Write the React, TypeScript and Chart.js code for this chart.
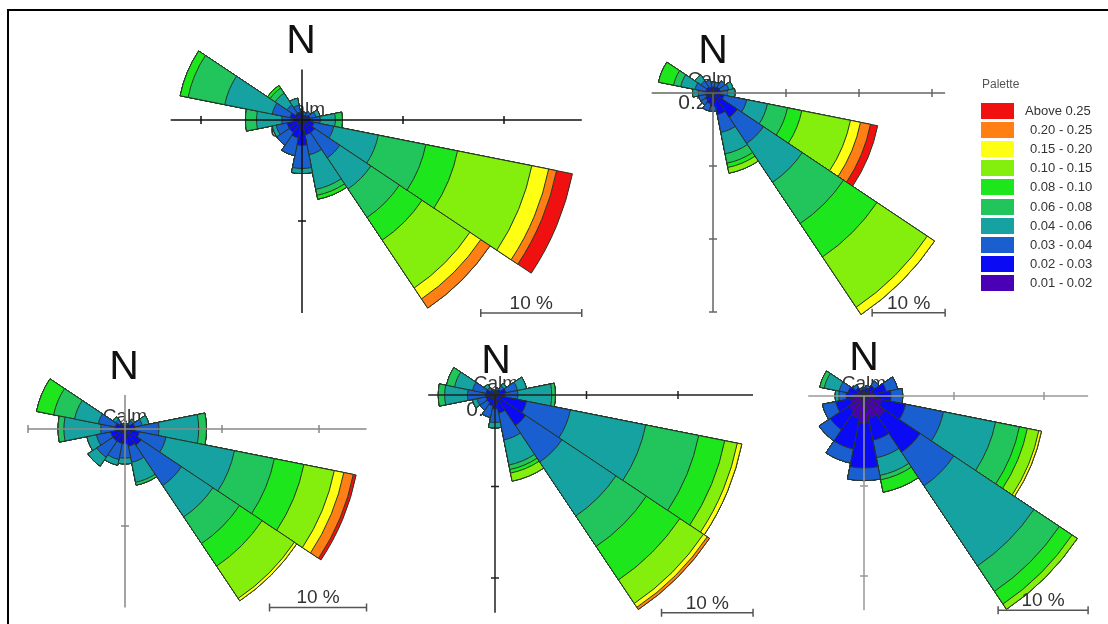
import React, { useEffect, useRef } from "react";
import { Chart, registerables } from "chart.js";

Chart.register(...registerables);

// ---------- categories ----------
const DIRECTIONS = ["N", "NNE", "NE", "ENE", "E", "ESE", "SE", "SSE", "S", "SSW", "SW", "WSW", "W", "WNW", "NW", "NNW"];
const CLASS_LABELS = ["0.01 - 0.02", "0.02 - 0.03", "0.03 - 0.04", "0.04 - 0.06", "0.06 - 0.08", "0.08 - 0.10", "0.10 - 0.15", "0.15 - 0.20", "0.20 - 0.25", "Above 0.25"];
const CLASS_COLORS = ["#4a00b4", "#0a0af5", "#1a5fd0", "#17a2a2", "#22c45c", "#1de61d", "#84ee0c", "#ffff14", "#ff7f14", "#f01010"];
const CALM_LABELS = ["0.27%", "0.23%", "0.25%", "0.06%", "0.28%"];
const SCALE_BAR_PCT = 10;

// ---------- frequencies (%) per class, by direction N..NNW ----------
// Rose 1
const R1_C01 = [0.2, 0.2, 0.2, 0.2, 0.2, 0.3, 0.3, 0.3, 0.4, 0.3, 0.3, 0.3, 0.2, 0.3, 0.2, 0.2];
const R1_C02 = [0.3, 0.3, 0.4, 0.6, 0.6, 0.9, 1.2, 1.2, 2.1, 1.5, 1.2, 1.2, 0.6, 0.9, 0.6, 0.6];
const R1_C03 = [0.3, 0.3, 0.4, 0.6, 1.0, 2.0, 3.0, 2.0, 2.3, 1.8, 1.5, 1.1, 1.2, 1.8, 1.0, 0.7];
const R1_C04 = [0, 0, 0, 0.4, 1.5, 4.5, 3.7, 3.5, 0.5, 0, 0, 0.4, 2.5, 4.8, 1.4, 0.7];
const R1_C06 = [0, 0, 0, 0, 0.7, 4.8, 3.4, 0.6, 0, 0, 0, 0, 1.1, 3.7, 0.6, 0];
const R1_C08 = [0, 0, 0, 0, 0, 3.2, 2.7, 0.4, 0, 0, 0, 0, 0, 0.8, 0.3, 0];
const R1_C10 = [0, 0, 0, 0, 0, 7.5, 5.7, 0, 0, 0, 0, 0, 0, 0, 0, 0];
const R1_C15 = [0, 0, 0, 0, 0, 1.7, 1.3, 0, 0, 0, 0, 0, 0, 0, 0, 0];
const R1_C20 = [0, 0, 0, 0, 0, 0.8, 1.1, 0, 0, 0, 0, 0, 0, 0, 0, 0];
const R1_C25 = [0, 0, 0, 0, 0, 1.6, 0, 0, 0, 0, 0, 0, 0, 0, 0, 0];
// Rose 2
const R2_C01 = [0.2, 0.2, 0.2, 0.2, 0.2, 0.3, 0.3, 0.3, 0.3, 0.2, 0.2, 0.2, 0.2, 0.2, 0.2, 0.2];
const R2_C02 = [0.6, 0.6, 0.8, 0.8, 0.8, 1.2, 3.7, 2.7, 1.5, 1.3, 1.0, 0.8, 0.8, 0.8, 0.8, 0.6];
const R2_C03 = [0.7, 0.7, 1.0, 1.2, 1.0, 3.2, 4.3, 2.5, 0.7, 1.0, 0.8, 1.0, 1.0, 1.5, 1.0, 1.0];
const R2_C04 = [0, 0, 0, 0.6, 1.0, 2.9, 6.4, 3.0, 0, 0, 0, 0, 0.8, 2.0, 1.0, 0];
const R2_C06 = [0, 0, 0, 0, 0, 2.8, 6.8, 1.3, 0, 0, 0, 0, 0, 1.0, 0, 0];
const R2_C08 = [0, 0, 0, 0, 0, 2.0, 5.5, 0.6, 0, 0, 0, 0, 0, 2.1, 0, 0];
const R2_C10 = [0, 0, 0, 0, 0, 6.8, 8.3, 0.8, 0, 0, 0, 0, 0, 0, 0, 0];
const R2_C15 = [0, 0, 0, 0, 0, 1.4, 1.2, 0, 0, 0, 0, 0, 0, 0, 0, 0];
const R2_C20 = [0, 0, 0, 0, 0, 1.4, 0, 0, 0, 0, 0, 0, 0, 0, 0, 0];
const R2_C25 = [0, 0, 0, 0, 0, 1.0, 0, 0, 0, 0, 0, 0, 0, 0, 0, 0];
// Rose 3
const R3_C01 = [0.2, 0.2, 0.2, 0.2, 0.2, 0.3, 0.3, 0.3, 0.3, 0.3, 0.3, 0.3, 0.2, 0.2, 0.2, 0.2];
const R3_C02 = [0.2, 0.2, 0.4, 0.8, 0.8, 1.2, 1.7, 1.5, 1.2, 1.2, 1.2, 1.2, 0.8, 0.8, 0.5, 0.2];
const R3_C03 = [0.1, 0.2, 0.4, 0.8, 2.5, 2.8, 5.0, 1.7, 1.5, 1.7, 2.0, 1.5, 1.5, 1.8, 0.5, 0.2];
const R3_C04 = [0, 0, 0.2, 0.7, 4.1, 7.2, 3.9, 2.1, 0.6, 0.6, 1.1, 1.0, 3.8, 2.5, 0.3, 0];
const R3_C06 = [0, 0, 0, 0, 0.8, 4.2, 3.3, 0.3, 0, 0, 0, 0, 0.6, 2.2, 0, 0];
const R3_C08 = [0, 0, 0, 0, 0, 3.1, 2.8, 0, 0, 0, 0, 0, 0, 1.8, 0, 0];
const R3_C10 = [0, 0, 0, 0, 0, 3.2, 4.0, 0, 0, 0, 0, 0, 0, 0, 0, 0];
const R3_C15 = [0, 0, 0, 0, 0, 1.0, 0.3, 0, 0, 0, 0, 0, 0, 0, 0, 0];
const R3_C20 = [0, 0, 0, 0, 0, 1.0, 0, 0, 0, 0, 0, 0, 0, 0, 0, 0];
const R3_C25 = [0, 0, 0, 0, 0, 0.3, 0, 0, 0, 0, 0, 0, 0, 0, 0, 0];
// Rose 4
const R4_C01 = [0.2, 0.2, 0.2, 0.2, 0.2, 0.3, 0.3, 0.3, 0.3, 0.2, 0.2, 0.2, 0.2, 0.2, 0.2, 0.2];
const R4_C02 = [0.2, 0.3, 0.5, 1.0, 0.8, 3.2, 3.7, 1.7, 1.2, 1.0, 0.8, 0.8, 0.8, 0.8, 0.4, 0.2];
const R4_C03 = [0.1, 0.3, 0.5, 1.3, 1.5, 4.9, 4.8, 3.0, 1.5, 1.3, 1.0, 1.0, 2.0, 1.5, 0.4, 0.2];
const R4_C04 = [0, 0, 0.3, 1.0, 3.7, 8.4, 7.1, 2.8, 0.6, 0, 0, 0.5, 2.5, 2.0, 0.4, 0];
const R4_C06 = [0, 0, 0, 0, 0.4, 5.9, 4.0, 0.5, 0, 0, 0, 0, 0.7, 0.9, 0, 0];
const R4_C08 = [0, 0, 0, 0, 0, 2.9, 4.4, 0.4, 0, 0, 0, 0, 0, 0, 0, 0];
const R4_C10 = [0, 0, 0, 0, 0, 1.4, 3.1, 0.9, 0, 0, 0, 0, 0, 0, 0, 0];
const R4_C15 = [0, 0, 0, 0, 0, 0.5, 0.5, 0, 0, 0, 0, 0, 0, 0, 0, 0];
const R4_C20 = [0, 0, 0, 0, 0, 0, 0.3, 0, 0, 0, 0, 0, 0, 0, 0, 0];
const R4_C25 = [0, 0, 0, 0, 0, 0, 0, 0, 0, 0, 0, 0, 0, 0, 0, 0];
// Rose 5
const R5_C01 = [0.4, 0.5, 0.8, 1.0, 1.2, 2.0, 2.8, 2.5, 3.0, 2.5, 2.0, 1.5, 1.0, 0.8, 0.6, 0.4];
const R5_C02 = [0.3, 0.4, 0.6, 1.5, 1.8, 2.7, 4.7, 2.5, 5.0, 3.5, 2.5, 1.7, 1.0, 1.0, 0.5, 0.3];
const R5_C03 = [0.2, 0.3, 0.6, 1.3, 1.3, 4.3, 4.5, 2.0, 1.4, 1.6, 1.5, 1.5, 0.8, 1.0, 0.4, 0.2];
const R5_C04 = [0, 0, 0, 0, 0, 5.9, 10.7, 2.0, 0, 0, 0, 0, 0.4, 1.7, 0, 0];
const R5_C06 = [0, 0, 0, 0, 0, 2.7, 3.4, 0.5, 0, 0, 0, 0, 0, 0.5, 0, 0];
const R5_C08 = [0, 0, 0, 0, 0, 0.9, 1.7, 1.4, 0, 0, 0, 0, 0, 0, 0, 0];
const R5_C10 = [0, 0, 0, 0, 0, 1.3, 0.7, 0, 0, 0, 0, 0, 0, 0, 0, 0];
const R5_C15 = [0, 0, 0, 0, 0, 0.3, 0, 0, 0, 0, 0, 0, 0, 0, 0, 0];
const R5_C20 = [0, 0, 0, 0, 0, 0, 0, 0, 0, 0, 0, 0, 0, 0, 0, 0];
const R5_C25 = [0, 0, 0, 0, 0, 0, 0, 0, 0, 0, 0, 0, 0, 0, 0, 0];

const ROSE_SERIES = [
  [R1_C01, R1_C02, R1_C03, R1_C04, R1_C06, R1_C08, R1_C10, R1_C15, R1_C20, R1_C25],
  [R2_C01, R2_C02, R2_C03, R2_C04, R2_C06, R2_C08, R2_C10, R2_C15, R2_C20, R2_C25],
  [R3_C01, R3_C02, R3_C03, R3_C04, R3_C06, R3_C08, R3_C10, R3_C15, R3_C20, R3_C25],
  [R4_C01, R4_C02, R4_C03, R4_C04, R4_C06, R4_C08, R4_C10, R4_C15, R4_C20, R4_C25],
  [R5_C01, R5_C02, R5_C03, R5_C04, R5_C06, R5_C08, R5_C10, R5_C15, R5_C20, R5_C25],
];

// ---------- layout (positions / axis extents in %) ----------
type RoseLayout = {
  cx: number; cy: number; pxPerPct: number;
  left: number; right: number; up: number; down: number;
  hTicks: number[]; vTicks: number[]; axisColor: string;
  nOff: [number, number]; calmOff: [number, number]; pctOff: [number, number];
};

const LAYOUTS: RoseLayout[] = [
  { cx: 302, cy: 120, pxPerPct: 10.1, left: 13, right: 27.7, up: 5, down: 19.1, hTicks: [-10, 10, 20], vTicks: [10], axisColor: "#111", nOff: [-1, -78], calmOff: [1, -10], pctOff: [-2, 11] },
  { cx: 713, cy: 93, pxPerPct: 7.3, left: 8.4, right: 31.8, up: 0, down: 30.1, hTicks: [10, 20, 30], vTicks: [10, 20, 30], axisColor: "#666", nOff: [0, -41], calmOff: [-3, -13], pctOff: [-5, 10] },
  { cx: 125, cy: 429, pxPerPct: 9.7, left: 10, right: 24.9, up: 3.5, down: 18.4, hTicks: [-10, 10, 20], vTicks: [10], axisColor: "#888", nOff: [-1, -61], calmOff: [0, -12], pctOff: [2, 10] },
  { cx: 495, cy: 395, pxPerPct: 9.15, left: 7.3, right: 28.2, up: 0, down: 23.8, hTicks: [10, 20], vTicks: [10, 20], axisColor: "#222", nOff: [1, -33], calmOff: [1, -11], pctOff: [1, 15] },
  { cx: 864, cy: 396, pxPerPct: 9.0, left: 6.2, right: 24.9, up: 0, down: 23.8, hTicks: [10, 20], vTicks: [10, 20], axisColor: "#999", nOff: [0, -37], calmOff: [0, -12], pctOff: [0, 10] },
];

const W = 1108;
const H = 624;
const HALF = 50;
const FONT = "'Liberation Sans', Arial, Helvetica, sans-serif";

function cumulate(series: number[][]): number[][] {
  const out: number[][] = [];
  let acc = new Array(DIRECTIONS.length).fill(0);
  series.forEach((s) => {
    acc = acc.map((a, i) => Math.round((a + s[i]) * 1000) / 1000);
    out.push(acc.slice());
  });
  return out;
}

function Rose({ layout, series, calm }: { layout: RoseLayout; series: number[][]; calm: string }) {
  const ref = useRef<HTMLCanvasElement>(null);
  useEffect(() => {
    const cum = cumulate(series);
    const datasets = cum.map((data, k) => ({
      label: CLASS_LABELS[k],
      data,
      backgroundColor: CLASS_COLORS[k],
      borderColor: "#263626",
      borderWidth: 1,
      clip: false as any,
    }));

    const decor = {
      id: "roseDecor",
      beforeDatasetsDraw(chart: any) {
        const s = chart.scales.r;
        const ctx = chart.ctx as CanvasRenderingContext2D;
        ctx.save();
        ctx.fillStyle = "#333";
        ctx.textAlign = "center";
        ctx.textBaseline = "middle";
        ctx.font = `19px ${FONT}`;
        ctx.fillText("Calm", s.xCenter + layout.calmOff[0], s.yCenter + layout.calmOff[1]);
        ctx.font = `21px ${FONT}`;
        ctx.fillText(calm, s.xCenter + layout.pctOff[0], s.yCenter + layout.pctOff[1]);
        ctx.restore();
      },
      afterDatasetsDraw(chart: any) {
        const s = chart.scales.r;
        const ctx = chart.ctx as CanvasRenderingContext2D;
        const d = (v: number) => s.getDistanceFromCenterForValue(v);
        const x0 = s.xCenter;
        const y0 = s.yCenter;
        ctx.save();
        // axes
        ctx.strokeStyle = layout.axisColor;
        ctx.lineWidth = 1.5;
        ctx.beginPath();
        ctx.moveTo(x0 - d(layout.left), y0);
        ctx.lineTo(x0 + d(layout.right), y0);
        ctx.moveTo(x0, y0 - d(layout.up));
        ctx.lineTo(x0, y0 + d(layout.down));
        layout.hTicks.forEach((t) => {
          const x = t < 0 ? x0 - d(-t) : x0 + d(t);
          ctx.moveTo(x, y0 - 4);
          ctx.lineTo(x, y0 + 4);
        });
        layout.vTicks.forEach((t) => {
          const y = y0 + d(t);
          ctx.moveTo(x0 - 4, y);
          ctx.lineTo(x0 + 4, y);
        });
        ctx.stroke();
        // north label
        ctx.fillStyle = "#111";
        ctx.textAlign = "center";
        ctx.textBaseline = "middle";
        ctx.font = `41px ${FONT}`;
        ctx.fillText("N", x0 + layout.nOff[0], y0 + layout.nOff[1]);
        // scale bar
        const bx1 = x0 + d(layout.right);
        const bx0 = bx1 - d(SCALE_BAR_PCT);
        const by = y0 + d(layout.down);
        ctx.strokeStyle = "#555";
        ctx.lineWidth = 1.5;
        ctx.beginPath();
        ctx.moveTo(bx0, by);
        ctx.lineTo(bx1, by);
        ctx.moveTo(bx0, by - 4);
        ctx.lineTo(bx0, by + 4);
        ctx.moveTo(bx1, by - 4);
        ctx.lineTo(bx1, by + 4);
        ctx.stroke();
        ctx.fillStyle = "#333";
        ctx.font = `19px ${FONT}`;
        ctx.textBaseline = "alphabetic";
        ctx.fillText(`${SCALE_BAR_PCT} %`, (bx0 + bx1) / 2, by - 4);
        ctx.restore();
      },
    };

    const chart = new Chart(ref.current as HTMLCanvasElement, {
      type: "polarArea",
      data: { labels: DIRECTIONS, datasets: datasets as any },
      options: {
        responsive: false,
        animation: false,
        events: [],
        layout: {
          padding: {
            left: layout.cx - HALF,
            top: layout.cy - HALF,
            right: W - layout.cx - HALF,
            bottom: H - layout.cy - HALF,
          },
        },
        plugins: { legend: { display: false }, tooltip: { enabled: false } },
        scales: {
          r: {
            min: 0,
            max: HALF / layout.pxPerPct,
            startAngle: -11.25,
            ticks: { display: false },
            grid: { display: false },
            angleLines: { display: false },
            pointLabels: { display: false },
          },
        },
      } as any,
      plugins: [decor],
    });
    return () => chart.destroy();
  }, [layout, series, calm]);

  return <canvas ref={ref} width={W} height={H} style={{ position: "absolute", left: 0, top: 0 }} />;
}

export default function App() {
  const legendRows = CLASS_LABELS.map((l, i) => ({ label: l, color: CLASS_COLORS[i] })).reverse();
  return (
    <div style={{ position: "absolute", left: 0, top: 0, width: W, height: H, background: "#fff", overflow: "hidden", fontFamily: FONT }}>
      <div style={{ position: "absolute", left: 7, top: 9, width: W - 7, height: 2, background: "#000" }} />
      <div style={{ position: "absolute", left: 7, top: 9, width: 2, height: H - 9, background: "#000" }} />
      {LAYOUTS.map((lay, i) => (
        <Rose key={i} layout={lay} series={ROSE_SERIES[i]} calm={CALM_LABELS[i]} />
      ))}
      <div style={{ position: "absolute", left: 982, top: 77, fontSize: 12, color: "#555" }}>Palette</div>
      {legendRows.map((r, i) => (
        <React.Fragment key={r.label}>
          <div style={{ position: "absolute", left: 981, top: 103 + i * 19.1, width: 33, height: 16, background: r.color }} />
          <div style={{ position: "absolute", left: i === 0 ? 1025 : 1030, top: 103 + i * 19.1, height: 16, lineHeight: "16px", fontSize: 13, color: "#333", whiteSpace: "nowrap" }}>
            {r.label}
          </div>
        </React.Fragment>
      ))}
    </div>
  );
}
